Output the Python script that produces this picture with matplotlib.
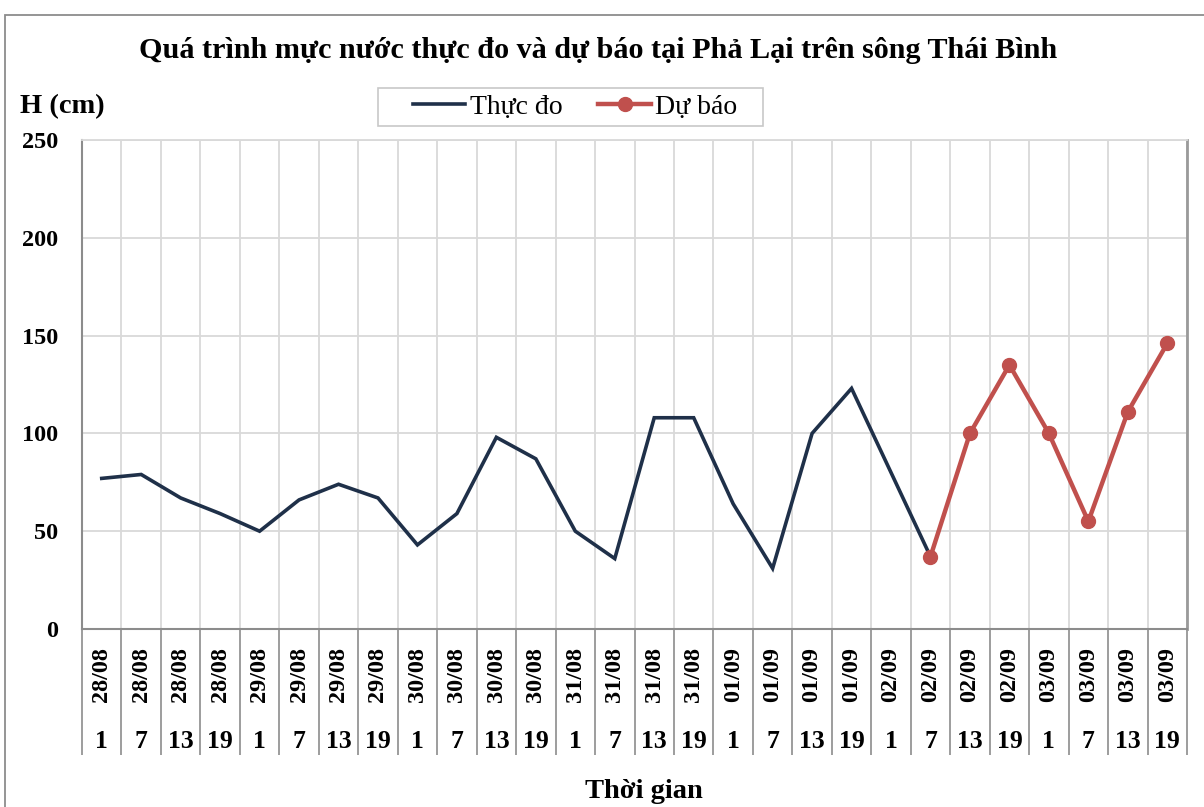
import matplotlib
matplotlib.use("Agg")
import matplotlib.pyplot as plt
from matplotlib.patches import Rectangle
import numpy as np

dates = ["28/08"] * 4 + ["29/08"] * 4 + ["30/08"] * 4 + ["31/08"] * 4 + \
        ["01/09"] * 4 + ["02/09"] * 4 + ["03/09"] * 4
hours = ["1", "7", "13", "19"] * 7

observed = [77, 79, 67, 59, 50, 66, 74, 67, 43, 59, 98, 87, 50, 36,
            108, 108, 64, 31, 100, 123, 80, 37] + [None] * 6
forecast = [None] * 21 + [37, 100, 135, 100, 55, 111, 146]

yticks = [0, 50, 100, 150, 200, 250]

title = "Quá trình mực nước thực đo và dự báo tại Phả Lại trên sông Thái Bình"
ylabel = "H (cm)"
xlabel = "Thời gian"
legend_labels = ["Thực đo", "Dự báo"]

W, H = 1204, 807
fig = plt.figure(figsize=(W / 100, H / 100), dpi=100)
serif = ["Liberation Serif", "DejaVu Serif"]

# outer chart frame
fig.add_artist(Rectangle((5 / W, -0.1), 1.2, (H - 15) / H + 0.1,
                         transform=fig.transFigure, fill=False,
                         edgecolor="#8c8c8c", linewidth=1.3))

left, right, top, bottom = 82, 1187, 140, 629
ax = fig.add_axes([left / W, 1 - bottom / H, (right - left) / W, (bottom - top) / H])

n = len(dates)
x = np.arange(n) + 0.5
obs = np.array([np.nan if v is None else v for v in observed], dtype=float)
fc = np.array([np.nan if v is None else v for v in forecast], dtype=float)

ax.plot(x, obs, color="#1f3049", linewidth=2.6, solid_joinstyle="miter", zorder=3,
        label=legend_labels[0])
ax.plot(x, fc, color="#c0504d", linewidth=3.2, marker="o", markersize=10,
        zorder=4, label=legend_labels[1])

ax.set_xlim(0, n)
ax.set_ylim(0, 250)
ax.set_yticks(yticks)
ax.set_yticklabels([str(t) for t in yticks], fontfamily=serif, fontweight="bold",
                   fontsize=17.5)
ax.tick_params(axis="y", length=0, pad=17)

ax.set_xticks(np.arange(n + 1))
ax.set_xticklabels([])
ax.tick_params(axis="x", length=126 * 0.72, width=1.2, color="#8c8c8c", direction="out")

ax.grid(True, color="#d9d9d9", linewidth=1.3)
ax.set_axisbelow(True)
for s in ["left", "bottom"]:
    ax.spines[s].set_color("#8c8c8c")
    ax.spines[s].set_linewidth(1.5)
ax.spines["top"].set_color("#d9d9d9")
ax.spines["top"].set_linewidth(1.3)
ax.spines["right"].set_color("#9a9a9a")
ax.spines["right"].set_linewidth(2.0)

trans = ax.get_xaxis_transform()
ph = bottom - top
for i in range(n):
    ax.text(x[i], -(675 - bottom) / ph, dates[i], rotation=90, ha="center", va="center",
            transform=trans, fontfamily=serif, fontweight="bold", fontsize=17.5)
    ax.text(x[i], -(741 - bottom) / ph, hours[i], ha="center", va="center",
            transform=trans, fontfamily=serif, fontweight="bold", fontsize=18.5)

fig.text(598 / W, 1 - 50 / H, title, ha="center", va="center", fontfamily=serif,
         fontweight="bold", fontsize=21.7)
fig.text(20 / W, 1 - 107 / H, ylabel, ha="left", va="center", fontfamily=serif,
         fontweight="bold", fontsize=20.5)
fig.text(644 / W, 1 - 792 / H, xlabel, ha="center", va="center", fontfamily=serif,
         fontweight="bold", fontsize=20.5)

# legend box
fig.add_artist(Rectangle((378 / W, 1 - 126 / H), 385 / W, 38 / H,
                         transform=fig.transFigure, facecolor="white",
                         edgecolor="#c8c8c8", linewidth=1.2, zorder=5))
leg = fig.legend(loc="center", bbox_to_anchor=(575 / W, 1 - 107 / H), ncol=2,
                 frameon=False, prop={"family": serif, "size": 20},
                 handlelength=1.9, handletextpad=0.15, columnspacing=1.3,
                 borderpad=0.0)
leg.set_zorder(6)

fig.savefig("out.png", dpi=100)
